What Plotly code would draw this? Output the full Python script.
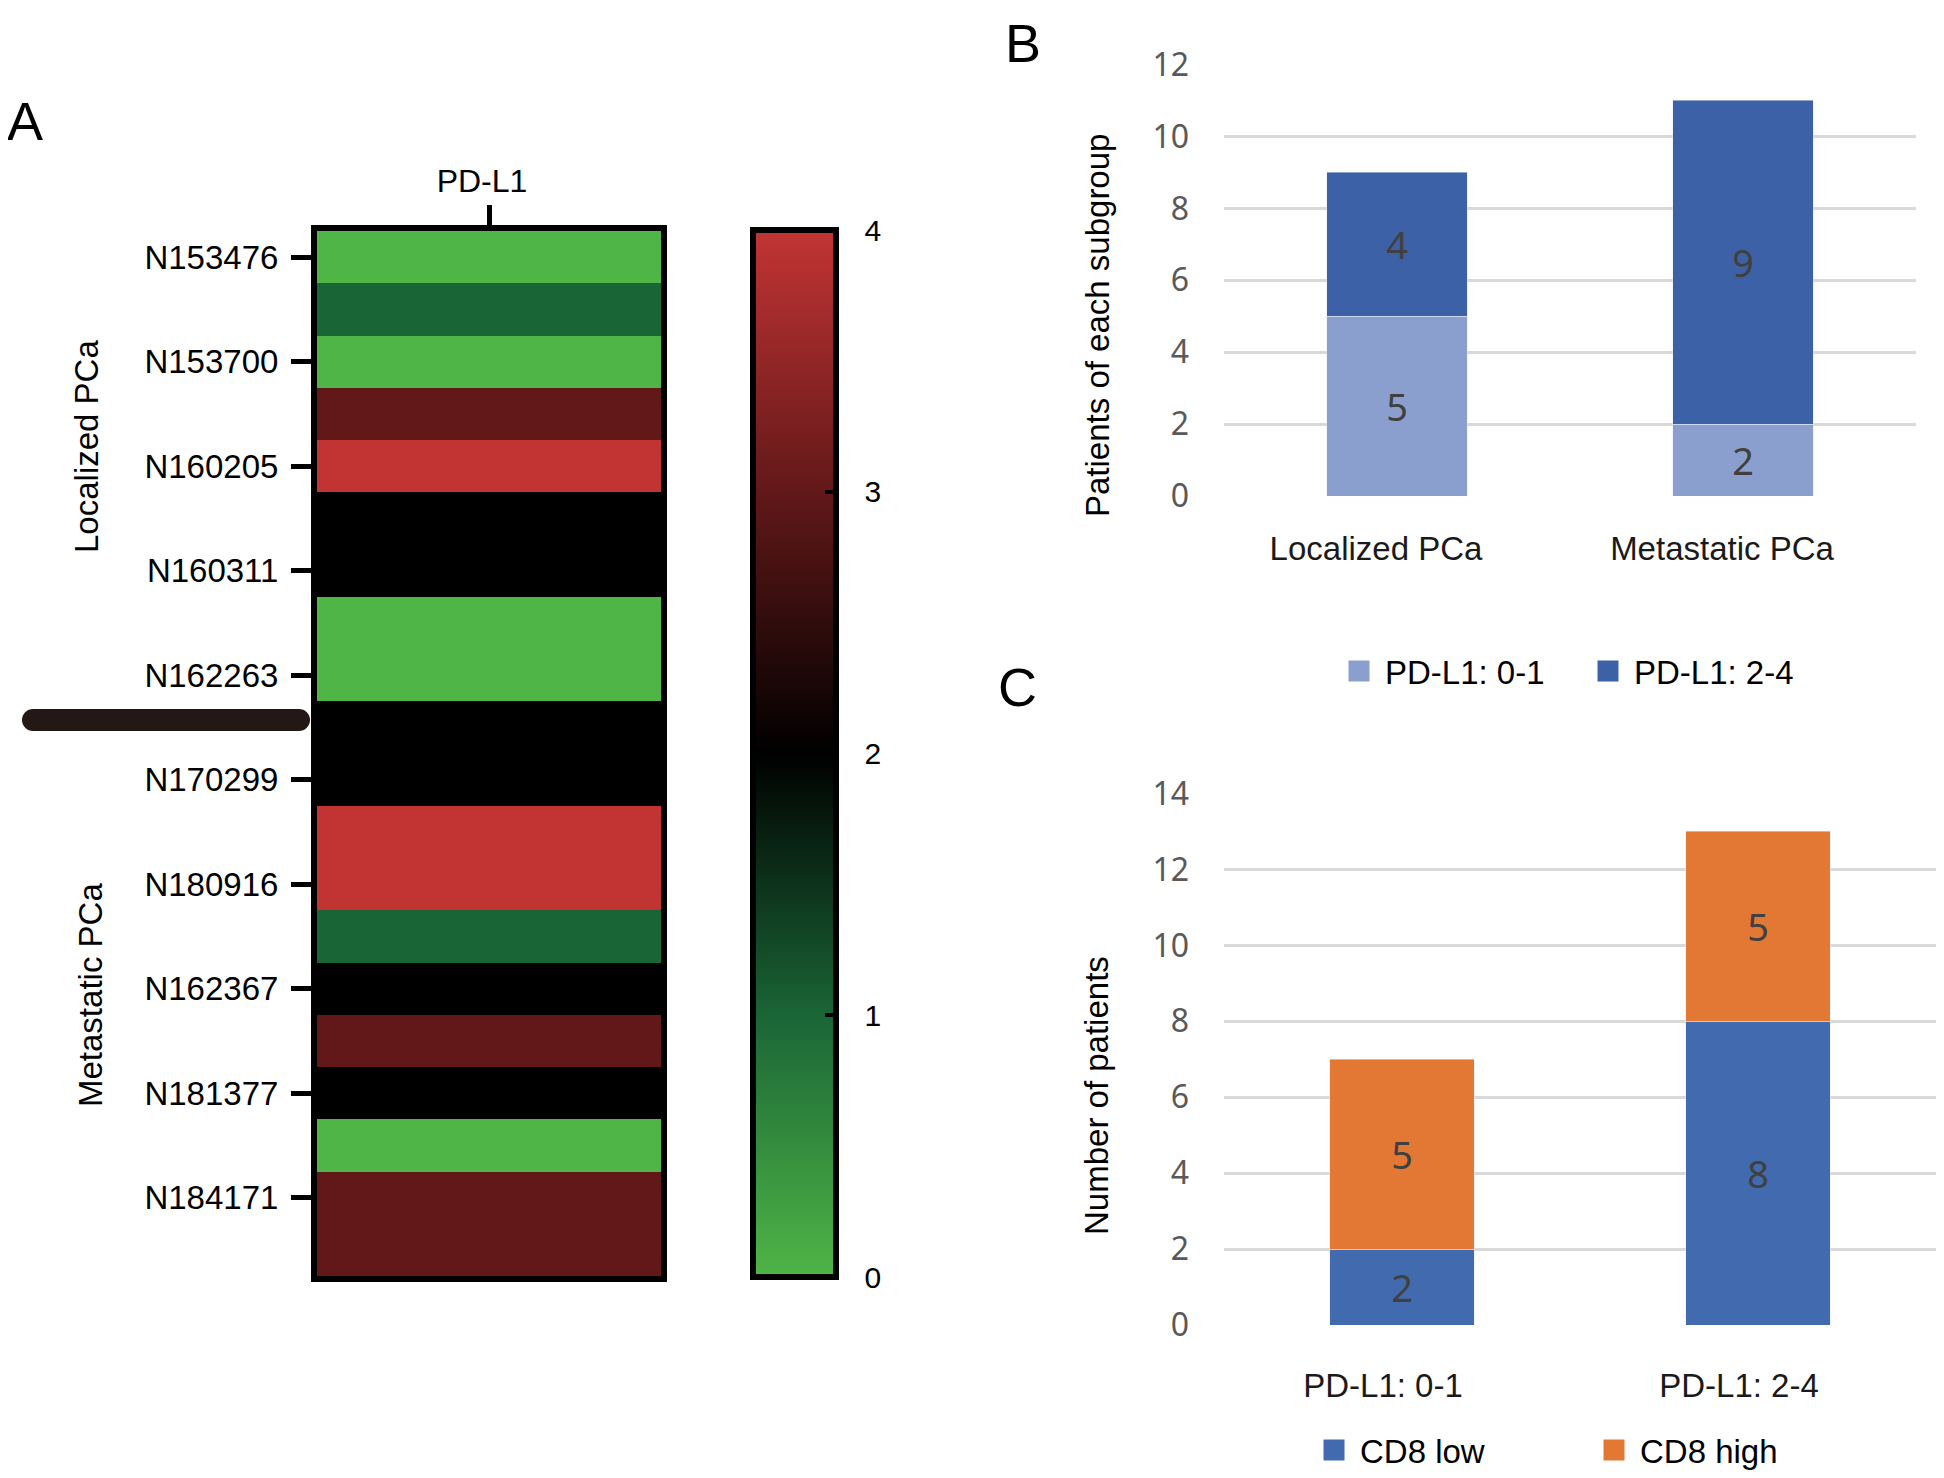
import plotly.graph_objects as go

# ---------------- data ----------------
sample_labels = ["N153476", "N153700", "N160205", "N160311", "N162263",
                 "N170299", "N180916", "N162367", "N181377", "N184171"]
pdl1_scores = [0, 1, 0, 3, 4, 2, 2, 0, 0, 2, 2, 4, 4, 1, 2, 3, 2, 0, 3, 3]
colorbar_ticks = [0, 1, 2, 3, 4]

groups_b = ["Localized PCa", "Metastatic PCa"]
b_pdl1_low = [5, 2]
b_pdl1_high = [4, 9]

groups_c = ["PD-L1: 0-1", "PD-L1: 2-4"]
c_cd8_low = [2, 8]
c_cd8_high = [5, 5]

# ---------------- helpers ----------------
OFF = 8                      # default page body margin
W, H = 1944 - 2 * OFF, 1478 - 2 * OFF
def px(x):
    return min(max((x - OFF) / W, 0.0), 1.0)
def py(y):
    return min(max(1 - (y - OFF) / H, 0.0), 1.0)

TXT = "Liberation Sans, Arial, sans-serif"
NUM = "Noto Sans, Open Sans, sans-serif"

rows = list(range(len(pdl1_scores)))
label_rows = rows[::2]

colorscale = [[0.0, "#4fb546"], [0.25, "#1a6536"], [0.5, "#000000"],
              [0.75, "#621819"], [1.0, "#c23434"]]

# colour bar geometry (screen px)
CB_LEFT, CB_THICK, CB_TOP, CB_LEN = 753, 83, 230, 1047
zmin, zmax = 0, 4
cb_common = dict(x=px(CB_LEFT), xanchor="left", xpad=0, ypad=0,
                 y=py(CB_TOP + CB_LEN / 2), yanchor="middle",
                 lenmode="pixels", len=CB_LEN, thickness=CB_THICK,
                 outlinewidth=6, outlinecolor="black", tickvals=colorbar_ticks)

heat_z = [[v] for v in pdl1_scores]

fig = go.Figure()

# heat map + colour bar carrying the tick labels
fig.add_trace(go.Heatmap(
    z=heat_z, x=[0], y=rows, zmin=zmin, zmax=zmax, colorscale=colorscale,
    xaxis="x", yaxis="y", hoverinfo="skip",
    colorbar=dict(**cb_common, ticks="outside", ticklen=20, tickwidth=1,
                  tickcolor="rgba(0,0,0,0)",
                  tickfont=dict(size=30, family=TXT, color="black")),
))
# same heat map again, its colour bar drawn on top with the inner tick dashes
fig.add_trace(go.Heatmap(
    z=heat_z, x=[0], y=rows, zmin=zmin, zmax=zmax, colorscale=colorscale,
    xaxis="x", yaxis="y", hoverinfo="skip",
    colorbar=dict(**cb_common, ticks="inside", ticklen=14, tickwidth=4,
                  tickcolor="black", showticklabels=False),
))

bar_text = dict(size=38, color="#404040", family=NUM)
# Panel B
fig.add_trace(go.Bar(x=groups_b, y=b_pdl1_low, xaxis="x2", yaxis="y2",
                     marker_color="#8a9fce", text=b_pdl1_low,
                     textposition="inside", insidetextanchor="middle",
                     textfont=bar_text, showlegend=False, name="PD-L1: 0-1"))
fig.add_trace(go.Bar(x=groups_b, y=b_pdl1_high, xaxis="x2", yaxis="y2",
                     marker_color="#3c61a6", text=b_pdl1_high,
                     textposition="inside", insidetextanchor="middle",
                     textfont=bar_text, showlegend=False, name="PD-L1: 2-4"))
# Panel C
fig.add_trace(go.Bar(x=groups_c, y=c_cd8_low, xaxis="x3", yaxis="y3",
                     marker_color="#426baf", text=c_cd8_low,
                     textposition="inside", insidetextanchor="middle",
                     textfont=bar_text, showlegend=False, name="CD8 low"))
fig.add_trace(go.Bar(x=groups_c, y=c_cd8_high, xaxis="x3", yaxis="y3",
                     marker_color="#e27834", text=c_cd8_high,
                     textposition="inside", insidetextanchor="middle",
                     textfont=bar_text, showlegend=False, name="CD8 high"))

# legend entries (larger square swatches)
for name, col, ax, lg in [("PD-L1: 0-1", "#8a9fce", ("x2", "y2"), "legend"),
                          ("PD-L1: 2-4", "#3c61a6", ("x2", "y2"), "legend"),
                          ("CD8 low", "#426baf", ("x3", "y3"), "legend2"),
                          ("CD8 high", "#e27834", ("x3", "y3"), "legend2")]:
    fig.add_trace(go.Scatter(x=[None], y=[None], mode="markers", name=name,
                             xaxis=ax[0], yaxis=ax[1], legend=lg,
                             marker=dict(symbol="square", size=16, color=col,
                                         line=dict(width=5, color=col)),
                             showlegend=True))

axis_frame = dict(showline=True, mirror=True, linewidth=6, linecolor="black",
                  showgrid=False, zeroline=False, automargin=False)

fig.update_layout(
    width=W, height=H,
    margin=dict(l=0, r=0, t=0, b=0, pad=0, autoexpand=False),
    paper_bgcolor="white", plot_bgcolor="white",
    barmode="stack", bargap=0.595,
    font=dict(family=TXT, color="black"),
    xaxis=dict(domain=[px(317), px(661)], anchor="y", side="top",
               range=[-0.5, 0.5], tickvals=[0], ticktext=["PD-L1"],
               ticks="outside", ticklen=20, tickwidth=5, tickcolor="black",
               ticklabelshift=-7,
               tickfont=dict(size=32, family=TXT, color="black"), **axis_frame),
    yaxis=dict(domain=[py(1276), py(231)], anchor="x",
               range=[len(rows) - 0.5, -0.5], tickvals=label_rows,
               ticktext=sample_labels, ticks="outside", ticklen=20,
               tickwidth=5, tickcolor="black", ticklabelstandoff=6,
               tickfont=dict(size=33, family=TXT, color="black"), **axis_frame),
    xaxis2=dict(domain=[px(1224), px(1916)], anchor="y2", showline=False,
                ticks="", ticklabelstandoff=30, ticklabelshift=-21,
                showgrid=False, zeroline=False, automargin=False,
                tickfont=dict(size=33, family=TXT, color="#1a1a1a")),
    yaxis2=dict(domain=[py(496), py(64.5)], anchor="x2", range=[0, 12],
                dtick=2, showgrid=True, gridcolor="#d9d9d9", gridwidth=3,
                zeroline=False, showline=False, ticks="", ticklabelstandoff=34,
                automargin=False,
                tickfont=dict(size=32, family=NUM, color="#595959")),
    xaxis3=dict(domain=[px(1224), px(1940)], anchor="y3", showline=False,
                ticks="", ticklabelstandoff=38, ticklabelshift=-19,
                showgrid=False, zeroline=False, automargin=False,
                tickfont=dict(size=33, family=TXT, color="#1a1a1a")),
    yaxis3=dict(domain=[py(1325), py(793.5)], anchor="x3", range=[0, 14],
                dtick=2, showgrid=True, gridcolor="#d9d9d9", gridwidth=3,
                zeroline=False, showline=False, ticks="", ticklabelstandoff=34,
                automargin=False,
                tickfont=dict(size=32, family=NUM, color="#595959")),
    legend=dict(orientation="h", x=px(1333), xanchor="left", y=py(671),
                yanchor="middle", entrywidth=192, entrywidthmode="pixels",
                traceorder="normal", itemwidth=42,
                font=dict(size=33, family=TXT, color="black"),
                bgcolor="rgba(0,0,0,0)", itemsizing="trace"),
    legend2=dict(orientation="h", x=px(1308), xanchor="left", y=py(1450),
                 yanchor="middle", entrywidth=223, entrywidthmode="pixels",
                 traceorder="normal", itemwidth=42,
                 font=dict(size=33, family=TXT, color="black"),
                 bgcolor="rgba(0,0,0,0)", itemsizing="trace"),
)

annotations = [
    dict(text="A", x=0, y=py(121), xanchor="left", yanchor="middle",
         xshift=-3, font=dict(size=54, family=TXT, color="black")),
    dict(text="B", x=px(1023), y=py(43), xanchor="center", yanchor="middle",
         font=dict(size=54, family=TXT, color="black")),
    dict(text="C", x=px(1017), y=py(687), xanchor="center", yanchor="middle",
         font=dict(size=54, family=TXT, color="black")),
    dict(text="Localized PCa", x=px(87), y=py(447), textangle=-90,
         xanchor="center", yanchor="middle",
         font=dict(size=33, family=TXT, color="black")),
    dict(text="Metastatic PCa", x=px(90), y=py(995), textangle=-90,
         xanchor="center", yanchor="middle",
         font=dict(size=33, family=TXT, color="black")),
    dict(text="Patients of each subgroup", x=px(1098), y=py(326),
         textangle=-90, xanchor="center", yanchor="middle",
         font=dict(size=33, family=TXT, color="black")),
    dict(text="Number of patients", x=px(1096), y=py(1096),
         textangle=-90, xanchor="center", yanchor="middle",
         font=dict(size=33, family=TXT, color="black")),
]
for a in annotations:
    a.update(xref="paper", yref="paper", showarrow=False)
fig.update_layout(annotations=annotations)

# separator bar between the two patient groups (rounded ends)
sep_y = py(720)
sep_col = "#231815"
shapes = [
    dict(type="line", xref="paper", yref="paper", x0=px(33), x1=px(299),
         y0=sep_y, y1=sep_y, line=dict(color=sep_col, width=22)),
]
for cx in (px(33), px(299)):
    shapes.append(dict(type="circle", xref="paper", yref="paper",
                       xsizemode="pixel", ysizemode="pixel",
                       xanchor=cx, yanchor=sep_y, x0=-11, x1=11, y0=-11, y1=11,
                       fillcolor=sep_col, line=dict(width=0)))
fig.update_layout(shapes=shapes)

fig.write_html("out.html")
